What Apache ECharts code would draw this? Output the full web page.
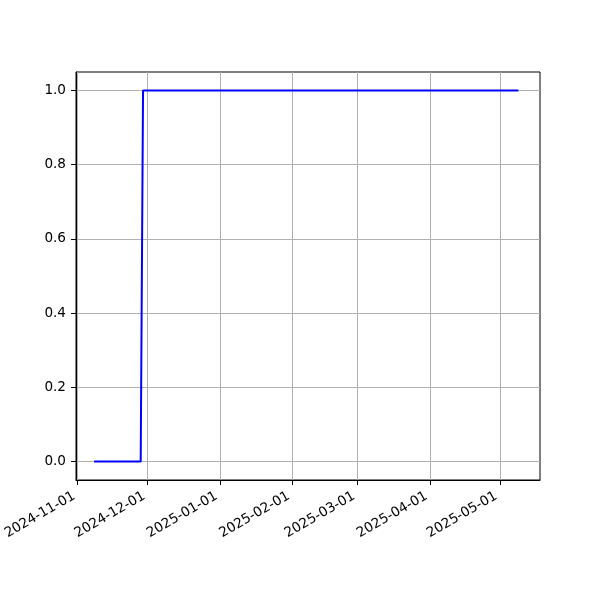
<!DOCTYPE html>
<html>
<head>
<meta charset="utf-8">
<script src="https://cdn.jsdelivr.net/npm/echarts@6/dist/echarts.min.js"></script>
<style>html,body{margin:0;padding:0;background:#fff}#c{width:600px;height:600px}</style>
</head>
<body>
<div id="c"></div>
<script>
// Data
const dates = ['2024-11-08', '2024-11-28', '2024-11-29', '2025-05-09'];
const values = [0, 0, 1, 1];
const xTickLabels = ['2024-11-01', '2024-12-01', '2025-01-01', '2025-02-01', '2025-03-01', '2025-04-01', '2025-05-01'];
const yTicks = [0, 0.2, 0.4, 0.6, 0.8, 1.0];
const xRange = ['2024-10-31 06:00', '2025-05-18 06:00'];
const yRange = [-0.05, 1.05];

function toTs(s) {
  const m = s.match(/(\d+)-(\d+)-(\d+)(?:\s+(\d+):(\d+))?/);
  return new Date(+m[1], +m[2] - 1, +m[3], m[4] ? +m[4] : 0, m[5] ? +m[5] : 0).getTime();
}
function fmt(v) {
  const d = new Date(v);
  const p = n => String(n).padStart(2, '0');
  return d.getFullYear() + '-' + p(d.getMonth() + 1) + '-' + p(d.getDate());
}

const xTickTs = xTickLabels.map(toTs);
const seriesData = dates.map((d, i) => [toTs(d), values[i]]);
const font = 'DejaVu Sans';

const chart = echarts.init(document.getElementById('c'), null, {renderer: 'canvas'});
chart.setOption({
  animation: false,
  backgroundColor: '#fff',
  grid: {left: 76, right: 60, top: 72, bottom: 120, containLabel: false, outerBoundsMode: 'none',
         show: true, borderColor: '#000', borderWidth: 1, backgroundColor: 'transparent'},
  xAxis: {
    type: 'value',
    min: toTs(xRange[0]),
    max: toTs(xRange[1]),
    axisLine: {show: true, onZero: false, lineStyle: {color: '#000', width: 1}},
    axisTick: {show: true, length: 5, lineStyle: {color: '#000', width: 1}, customValues: xTickTs},
    axisLabel: {
      customValues: xTickTs,
      rotate: 30,
      margin: 13,
      padding: [0, 4, 0, 0],
      color: '#000',
      fontFamily: font,
      fontSize: 13.6,
      formatter: v => fmt(v),
      hideOverlap: false
    },
    splitLine: {show: true, lineStyle: {color: '#b0b0b0', width: 1}}
  },
  yAxis: {
    type: 'value',
    min: yRange[0],
    max: yRange[1],
    axisLine: {show: true, onZero: false, lineStyle: {color: '#000', width: 1}},
    axisTick: {show: true, length: 5, lineStyle: {color: '#000', width: 1}, customValues: yTicks},
    axisLabel: {
      customValues: yTicks,
      margin: 10,
      color: '#000',
      fontFamily: font,
      fontSize: 13.6,
      formatter: v => v.toFixed(1)
    },
    splitLine: {show: true, lineStyle: {color: '#b0b0b0', width: 1}}
  },
  series: [{
    type: 'line',
    data: seriesData,
    symbol: 'none',
    lineStyle: {color: '#0000ff', width: 2},
    itemStyle: {color: '#0000ff'}
  }]
});
</script>
</body>
</html>
